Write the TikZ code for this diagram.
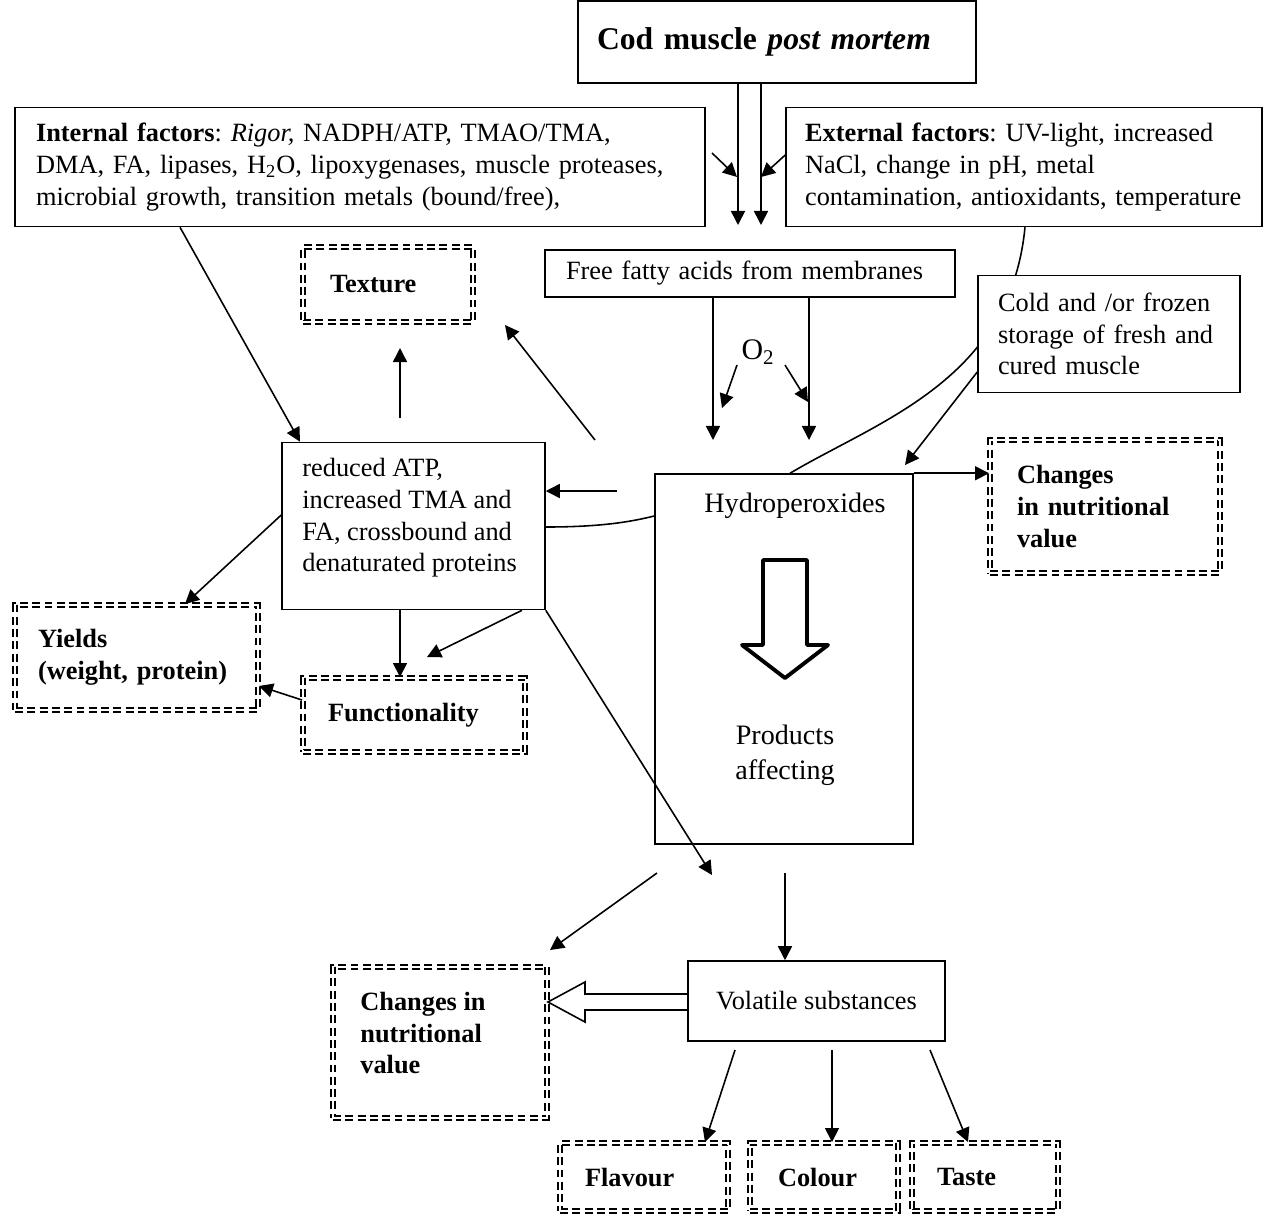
\documentclass[tikz,border=0pt]{standalone}
\usepackage{fontspec}
\setmainfont{Liberation Serif}
\frenchspacing
\usetikzlibrary{arrows.meta,calc}
\begin{document}
\begin{tikzpicture}[x=0.02cm,y=-0.02cm,
  box/.style={draw,line width=0.9pt,inner sep=0pt,font=\fontsize{15}{18}\selectfont},
  txt/.style={inner sep=0pt,font=\fontsize{15}{18}\selectfont},
  dbox/.style={draw,double,line width=1.1pt,double distance=1.6pt,dash pattern=on 4.5pt off 2.5pt,inner sep=0pt,font=\bfseries\fontsize{15}{18}\selectfont},
  arr/.style={line width=0.9pt,-{Triangle[length=8pt,width=8pt]}},
  ln/.style={line width=0.9pt},
  ]
\useasboundingbox (0,0) rectangle (1268,1215);

% top
\node[box, text width=7.2cm, inner xsep=0.38cm, minimum height=1.64cm, align=left, font=\bfseries\fontsize{18}{22}\selectfont] (title) at (777,42) {Cod muscle \textit{post mortem}};
\node[box, text width=12.96cm, inner xsep=0.42cm, minimum height=2.38cm, align=left] (int) at (360,167)
  {\textbf{Internal factors}: \textit{Rigor,} NADPH/ATP, TMAO/TMA,\\ DMA, FA, lipases, H\textsubscript{2}O, lipoxygenases, muscle proteases,\\ microbial growth, transition metals (bound/free),};
\node[box, text width=8.76cm, inner xsep=0.38cm, minimum height=2.38cm, align=left] (ext) at (1024,167)
  {\textbf{External factors}: UV-light, increased\\ NaCl, change in pH, metal\\ contamination, antioxidants, temperature};

\coordinate (t1) at (738,225);
\coordinate (t2) at (761,225);
\draw[arr] (title.south -| t1) -- (t1);
\draw[arr] (title.south -| t2) -- (t2);
\coordinate (s1) at (712,153);
\coordinate (s1e) at (737,177);
\coordinate (s2e) at (761,177);
\draw[arr] (s1) -- (s1e);
\draw[arr] (ext.west |- 0,155) -- (s2e);

% free fatty acids
\node[box, text width=7.36cm, inner xsep=0.42cm, minimum height=0.94cm, align=left] (ffa) at (750,273.5) {Free fatty acids from membranes};
\coordinate (f1) at (713,440);
\coordinate (f2) at (809,440);
\draw[arr] (ffa.south -| f1) -- (f1);
\draw[arr] (ffa.south -| f2) -- (f2);
\node[font=\fontsize{17}{20}\selectfont, inner sep=1pt] (o2) at (758,352) {O\textsubscript{2}};
\coordinate (o1s) at (737,365);
\coordinate (o1e) at (722,408);
\coordinate (o2s) at (785,365);
\coordinate (o2e) at (808,402);
\draw[arr] (o1s) -- (o1e);
\draw[arr] (o2s) -- (o2e);

% texture
\node[dbox, text width=2.32cm, inner xsep=0.54cm, minimum height=1.5cm, align=left] (tex) at (388,284.5) {Texture};

% hydroperoxides
\node[box, minimum width=5.16cm, minimum height=7.4cm] (hyd) at (784,659) {};
\node[font=\fontsize{16}{19}\selectfont] (hydt) at (795,506) {Hydroperoxides};
\node[font=\fontsize{16}{20}\selectfont, align=center] (prod) at (785,755) {Products\\affecting};
\draw[line width=2.2pt, line join=round] (763,560) -- (807,560) -- (807,645) -- (828,645) -- (785,678) -- (742,645) -- (763,645) -- cycle;

% curve external -> hydroperoxides (passes behind cold box)
\draw[ln] (ext.south -| 1025,0) .. controls (1010,380) and (880,420) .. (hyd.north -| 790,0);
\node[box, fill=white, text width=4.44cm, inner xsep=0.4cm, minimum height=2.34cm, align=left] (cold) at (1109,334)
  {Cold and /or frozen\\ storage of fresh and\\ cured muscle};
\coordinate (c1e) at (905,465);
\draw[arr] (cold.west |- 0,372) -- (c1e);

% changes right
\node[dbox, text width=3.52cm, inner xsep=0.54cm, minimum height=2.66cm, align=left] (chr) at (1105,506.5)
  {Changes\\ in nutritional\\ value};
\draw[arr] (hyd.north east) -- (hyd.north east -| chr.west);

% reduced ATP
\node[box, minimum width=5.26cm, minimum height=3.34cm] (red) at (413.5,526) {};
\node[txt, anchor=west, align=left] (redt) at (302,518)
  {reduced ATP,\\ increased TMA and\\ FA, crossbound and\\ denaturated proteins};
\draw[arr] (int.south -| 180,0) -- (red.north -| 300,0);
\coordinate (u1) at (400,418);
\coordinate (u1e) at (400,348);
\draw[arr] (u1) -- (u1e);
\coordinate (d1) at (595,440);
\coordinate (d1e) at (505,325);
\draw[arr] (d1) -- (d1e);
\coordinate (h1) at (617,491);
\draw[arr] (h1) -- (red.east |- h1);
\draw[ln] (red.east |- 0,527) .. controls (600,527) and (630,522) .. (hyd.west |- 0,516);

% yields, functionality
\node[dbox, text width=3.94cm, inner xsep=0.46cm, minimum height=2.1cm, align=left] (yld) at (136.5,657.5)
  {Yields\\ (weight, protein)};
\node[dbox, text width=3.44cm, inner xsep=0.5cm, minimum height=1.48cm, align=left] (fun) at (414,715) {Functionality};
\draw[arr] (red.west |- 0,515) -- (yld.north -| 185,0);
\draw[arr] (red.south -| 400,0) -- (fun.north -| 400,0);
\coordinate (q1) at (427,657);
\draw[arr] (red.south -| 522,0) -- (q1);
\draw[arr] (fun.west |- 0,700) -- (yld.east |- 0,686);

% volatile and bottom
\node[box, minimum width=5.14cm, minimum height=1.6cm] (vol) at (816.5,1001) {Volatile substances};
\node[dbox, minimum width=4.28cm, minimum height=3.02cm] (chb) at (440,1042.5) {};
\node[txt, anchor=west, align=left, font=\bfseries\fontsize{15}{18}\selectfont] (chbt) at (360,1033)
  {Changes in\\ nutritional\\ value};
\coordinate (r1e) at (712,875);
\draw[arr] (red.south east) -- (r1e);
\coordinate (g1) at (657,873);
\coordinate (g1e) at (550,950);
\draw[arr] (g1) -- (g1e);
\coordinate (v1) at (785,873);
\draw[arr] (v1) -- (vol.north -| v1);
\draw[ln, line join=miter] (vol.west |- 0,994) -- (585,994) -- (585,982) -- (chb.east |- 0,1002) -- (585,1022) -- (585,1010) -- (vol.west |- 0,1010);

\node[dbox, text width=2.36cm, inner xsep=0.5cm, minimum height=1.36cm, align=left] (fla) at (644,1177) {Flavour};
\node[dbox, text width=1.84cm, inner xsep=0.56cm, minimum height=1.36cm, align=left] (col) at (824,1177) {Colour};
\node[dbox, text width=1.92cm, inner xsep=0.5cm, minimum height=1.36cm, align=left] (tas) at (985,1177) {Taste};
\coordinate (b1) at (735,1050);
\coordinate (b2) at (832,1050);
\coordinate (b3) at (930,1050);
\draw[arr] (b1) -- (fla.north -| 705,0);
\draw[arr] (b2) -- (col.north -| b2);
\draw[arr] (b3) -- (tas.north -| 968,0);
\end{tikzpicture}
\end{document}
